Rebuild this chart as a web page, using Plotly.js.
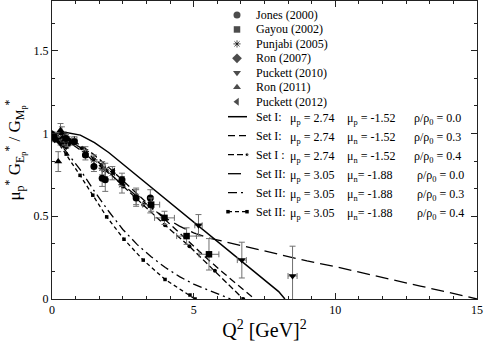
<!DOCTYPE html>
<html>
<head>
<meta charset="utf-8">
<script src="https://cdn.plot.ly/plotly-3.0.1.min.js"></script>
<style>
  html, body { margin: 0; padding: 0; background: #fff; }
  #chart { width: 484px; height: 343px; }
</style>
</head>
<body>
<div id="chart"></div>
<script>
// ------------------- data -------------------
// measurements (Q^2 in GeV^2, ratio, error)
var jonesQ2 = [0.49, 0.79, 1.18, 1.48, 1.77, 1.88, 2.47, 2.97, 3.47];
var jonesR = [0.97, 0.95, 0.87, 0.80, 0.73, 0.72, 0.72, 0.61, 0.61];
var jonesErr = [0.02, 0.02, 0.03, 0.03, 0.05, 0.07, 0.04, 0.05, 0.05];

var gayouQ2 = [3.5, 3.97, 4.75, 5.54];
var gayouR = [0.57, 0.49, 0.38, 0.27];
var gayouErr = [0.04, 0.04, 0.05, 0.095];
var gayouQ2Err = [0.3, 0.35, 0.35, 0.35];

var punjabiQ2 = [0.49, 0.79, 1.18, 1.48, 1.77, 1.88, 2.13, 2.47, 2.97, 3.47];
var punjabiR = [0.98, 0.96, 0.89, 0.84, 0.79, 0.78, 0.76, 0.69, 0.62, 0.57];
var punjabiErr = [0.02, 0.02, 0.03, 0.03, 0.04, 0.04, 0.04, 0.05, 0.05, 0.05];

var ron07Q2 = [0.02, 0.1, 0.3, 0.4, 0.5, 0.6];
var ron07R = [0.99, 0.97, 0.95, 0.94, 0.93, 0.95];
var ron07Err = [0.02, 0.02, 0.02, 0.02, 0.02, 0.02];

var puck10Q2 = [5.17, 6.7, 8.49];
var puck10R = [0.445, 0.235, 0.139];
var puck10Err = [0.065, 0.108, 0.18];
var puck10Q2Err = [0.13, 0.16, 0.16];

var ron11Q2 = [0.22, 0.3, 0.35, 0.4, 0.45, 0.55];
var ron11R = [0.83, 1.02, 1.0, 0.98, 0.96, 0.95];
var ron11Err = [0.06, 0.04, 0.04, 0.03, 0.03, 0.03];

var puck12Q2 = [2.16, 2.5];
var puck12R = [0.77, 0.70];

// model curves
var setI00Q2 = [0, 0.5, 1, 1.5, 2, 2.5, 3, 3.5, 4, 4.5, 5, 5.5, 6, 6.5, 7, 7.5, 8, 8.22];
var setI00R = [1.0, 1.005, 0.99, 0.945, 0.885, 0.815, 0.745, 0.675, 0.605, 0.535, 0.465, 0.395, 0.325, 0.255, 0.185, 0.115, 0.045, 0];

var setI03Q2 = [0, 0.5, 1, 1.5, 2, 2.5, 3, 3.5, 4, 4.5, 5, 5.5, 6, 6.5, 7, 7.15];
var setI03R = [1, 0.975, 0.93, 0.87, 0.795, 0.715, 0.635, 0.555, 0.475, 0.395, 0.315, 0.24, 0.165, 0.095, 0.025, 0];

var setI04Q2 = [0, 0.45, 1.05, 1.75, 2.52, 3.22, 3.99, 4.85, 5.75, 6.75];
var setI04R = [1, 0.97, 0.91, 0.81, 0.68, 0.57, 0.446, 0.318, 0.17, 0];

var setII00Q2 = [0, 0.5, 1, 1.5, 2, 2.5, 3, 3.5, 4, 4.5, 5, 5.5, 6, 7, 8, 9, 10, 11, 12, 13, 14, 15];
var setII00R = [1, 0.96, 0.9, 0.83, 0.76, 0.69, 0.62, 0.55, 0.49, 0.44, 0.40, 0.37, 0.35, 0.31, 0.27, 0.23, 0.195, 0.155, 0.117, 0.078, 0.04, 0];

var setII03Q2 = [0, 0.25, 0.5, 1, 1.5, 2, 2.5, 3, 3.5, 4, 4.5, 5, 5.5, 6, 6.3];
var setII03R = [1, 0.95, 0.89, 0.78, 0.65, 0.53, 0.42, 0.33, 0.255, 0.19, 0.135, 0.09, 0.055, 0.022, 0];

var setII04Q2 = [0, 0.5, 0.99, 1.44, 1.93, 2.54, 3.22, 3.99, 4.87, 5.05];
var setII04R = [1, 0.875, 0.747, 0.627, 0.496, 0.361, 0.235, 0.118, 0.024, 0];

// legend labels
var dataNames = ['Jones (2000)', 'Gayou (2002)', 'Punjabi (2005)', 'Ron (2007)',
                 'Puckett (2010)', 'Ron (2011)', 'Puckett (2012)'];
var setNames = ['Set I:', 'Set I:', 'Set I :', 'Set II:', 'Set II:', 'Set II:'];
var muPLabels = ['μ<sub>p</sub> = 2.74', 'μ<sub>p</sub> = 2.74', 'μ<sub>p</sub> = 2.74',
                 'μ<sub>p</sub> = 3.05', 'μ<sub>p</sub> = 3.05', 'μ<sub>p</sub> = 3.05'];
var muNLabels = ['μ<sub>p</sub> = -1.52', 'μ<sub>n</sub> = -1.52', 'μ<sub>n</sub> = -1.52',
                 'μ<sub>n</sub>= -1.88', 'μ<sub>n</sub>= -1.88', 'μ<sub>n</sub>= -1.88'];
var rhoLabels = ['ρ/ρ<sub>0</sub> = 0.0', 'ρ/ρ<sub>0</sub> = 0.3', 'ρ/ρ<sub>0</sub> = 0.4',
                 'ρ/ρ<sub>0</sub> = 0.0', 'ρ/ρ<sub>0</sub> = 0.3', 'ρ/ρ<sub>0</sub> = 0.4'];

// ------------------- styles -------------------
var serif = '"Liberation Serif", "Times New Roman", serif';
var textFont = {family: serif, size: 12, color: '#000'};
var errColor = '#707070';
var symbols = ['circle', 'square', 'asterisk-open', 'diamond', 'triangle-down', 'triangle-up', 'triangle-left'];
var symSizes = [7, 6.5, 6, 7.5, 7, 7, 7];

var curveStyles = [
    {line: {color: '#000', width: 1.5, dash: 'solid'}, mode: 'lines'},
    {line: {color: '#000', width: 1.3, dash: '7px,4px'}, mode: 'lines'},
    {line: {color: '#000', width: 1.3, dash: '6px,3px'}, mode: 'lines+markers',
     marker: {symbol: 'circle', size: 4, color: '#000'}},
    {line: {color: '#000', width: 1.3, dash: '13px,6px'}, mode: 'lines'},
    {line: {color: '#000', width: 1.3, dash: '9px,4px,2px,4px'}, mode: 'lines'},
    {line: {color: '#000', width: 1.3, dash: '4px,3px'}, mode: 'lines+markers',
     marker: {symbol: 'square', size: 3.5, color: '#000'}}
];

function dataTrace(x, y, err, idx, xerr) {
    var t = {
        x: x, y: y, type: 'scatter', mode: 'markers', name: dataNames[idx],
        marker: {symbol: symbols[idx], size: symSizes[idx], color: '#000',
                 line: {color: '#000', width: idx === 2 ? 1 : 0}},
        showlegend: false
    };
    if (err) t.error_y = {type: 'data', array: err, color: errColor, thickness: 1, width: 3};
    if (xerr) t.error_x = {type: 'data', array: xerr, color: errColor, thickness: 1, width: 3};
    return t;
}

function curveTrace(x, y, idx, xa, ya) {
    var s = curveStyles[idx];
    var t = {x: x, y: y, type: 'scatter', mode: s.mode, line: s.line, showlegend: false,
             xaxis: xa || 'x', yaxis: ya || 'y'};
    if (s.marker) t.marker = s.marker;
    return t;
}

var curves = [
    curveTrace(setI00Q2, setI00R, 0),
    curveTrace(setI03Q2, setI03R, 1),
    curveTrace(setI04Q2, setI04R, 2),
    curveTrace(setII00Q2, setII00R, 3),
    curveTrace(setII03Q2, setII03R, 4),
    curveTrace(setII04Q2, setII04R, 5)
];

var points = [
    dataTrace(punjabiQ2, punjabiR, punjabiErr, 2),
    dataTrace(ron07Q2, ron07R, ron07Err, 3),
    dataTrace(ron11Q2, ron11R, ron11Err, 5),
    dataTrace(jonesQ2, jonesR, jonesErr, 0),
    dataTrace(gayouQ2, gayouR, gayouErr, 1, gayouQ2Err),
    dataTrace(puck10Q2, puck10R, puck10Err, 4, puck10Q2Err),
    dataTrace(puck12Q2, puck12R, null, 6)
];

// ------------------- hand-made legend (page pixel coords on x2/y2) -------------------
var legSymX = 237, legLineX0 = 228, legLineX1 = 247, legTextX = 254;
var legTop = 15, legStep = 14.45, setTop = 116.7, setStep = 19;
var colX = [254, 288, 345, 412];

var symRowsY = dataNames.map(function (n, i) { return legTop + i * legStep; });
var legendTraces = [{
    x: dataNames.map(function () { return legSymX; }), y: symRowsY,
    type: 'scatter', mode: 'markers', xaxis: 'x2', yaxis: 'y2', showlegend: false,
    marker: {symbol: symbols, size: symSizes, color: '#000',
             line: {color: '#000', width: symbols.map(function (s) { return s === 'asterisk-open' ? 1 : 0; })}}
}];
var annotations = [];
dataNames.forEach(function (n, i) {
    annotations.push({x: legTextX, y: symRowsY[i], xref: 'x2', yref: 'y2', text: n, font: textFont,
                      xanchor: 'left', yanchor: 'middle', showarrow: false});
});
setNames.forEach(function (n, i) {
    var yy = setTop + i * setStep;
    var t = curveTrace([legLineX0, legLineX1], [yy, yy], i, 'x2', 'y2');
    if (i === 2) t.marker = {symbol: 'circle', size: [0, 4], color: '#000'};
    legendTraces.push(t);
    var cols = [n, muPLabels[i], muNLabels[i], rhoLabels[i]];
    cols.forEach(function (c, j) {
        var cx = colX[j] + (j === 3 && i >= 3 ? 3 : 0);
        annotations.push({x: cx, y: yy, xref: 'x2', yref: 'y2', text: c, font: textFont,
                          xanchor: 'left', yanchor: j === 0 ? 'middle' : 'top',
                          yshift: j === 0 ? 0 : 8, showarrow: false});
    });
});

var axisCommon = {
    showgrid: false, zeroline: false, showline: true, linecolor: '#222', linewidth: 1,
    mirror: 'ticks', ticks: 'inside', ticklen: 6, tickcolor: '#222',
    tickfont: textFont
};

var layout = {
    width: 484, height: 343,
    margin: {l: 52, r: 7, t: 1, b: 44},
    paper_bgcolor: '#fff', plot_bgcolor: '#fff',
    font: textFont,
    showlegend: false,
    xaxis: Object.assign({}, axisCommon, {
        range: [0, 15], dtick: 5,
        minor: {dtick: 5 / 6, ticks: 'inside', ticklen: 3, tickcolor: '#222'},
        title: {text: 'Q<sup>2</sup> [GeV]<sup>2</sup>', font: {family: serif, size: 20, color: '#000'}, standoff: 6}
    }),
    yaxis: Object.assign({}, axisCommon, {
        range: [0, 1.8], dtick: 0.5,
        minor: {dtick: 0.5 / 3, ticks: 'inside', ticklen: 3, tickcolor: '#222'},
        title: {text: 'μ<sub>p</sub><sup>*</sup> G<sub>E<sub>p</sub></sub><sup>*</sup> / G<sub>M<sub>p</sub></sub><sup>*</sup>',
                font: {family: serif, size: 17, color: '#000'}, standoff: 8}
    }),
    xaxis2: {overlaying: 'x', anchor: 'y2', range: [52, 477], visible: false},
    yaxis2: {overlaying: 'y', anchor: 'x2', range: [299, 1], visible: false},
    annotations: annotations
};

Plotly.newPlot('chart', curves.concat(points).concat(legendTraces), layout,
               {staticPlot: true, displayModeBar: false});
</script>
</body>
</html>
